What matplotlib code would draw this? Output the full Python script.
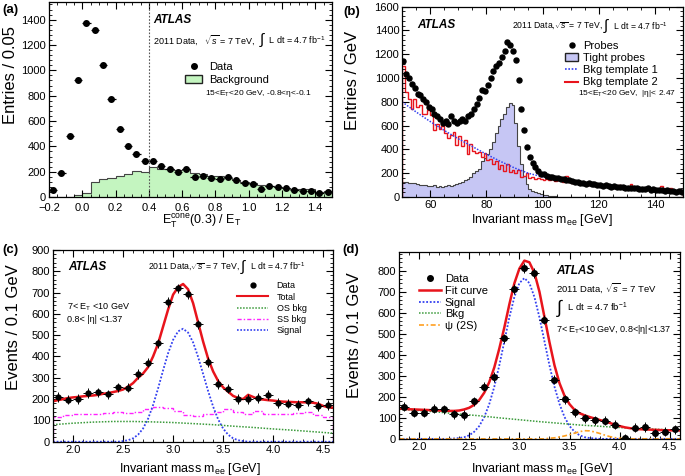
import numpy as np
import matplotlib.pyplot as plt
from matplotlib.lines import Line2D
from matplotlib.patches import Patch
from matplotlib.ticker import MultipleLocator

plt.rcParams['font.family'] = ['Liberation Sans', 'DejaVu Sans']
plt.rcParams['mathtext.fontset'] = 'custom'
plt.rcParams['mathtext.rm'] = 'Liberation Sans'
plt.rcParams['mathtext.it'] = 'Liberation Sans:italic'
plt.rcParams['mathtext.bf'] = 'Liberation Sans:bold'

# ---------- (a) isolation, bins of 0.05 from -0.2 to 1.5
iso_data = [52, 190, 479, 926, 1376, 1316, 1045, 771, 534, 403, 337, 287, 282, 242, 218, 195, 224,
            160, 166, 150, 142, 158, 132, 108, 105, 66, 89, 79, 71, 55, 47, 50, 34, 42]
iso_bkg = [0, 0, 0, 18, 34, 118, 140, 150, 166, 184, 203, 197, 237, 224, 218, 213, 224,
           187, 179, 168, 163, 153, 132, 121, 108, 97, 87, 79, 68, 63, 60, 60, 42, 45]

# ---------- (b) Z tag and probe, 1 GeV bins from 50 to 150
probes = [1140, 1030, 1000, 950, 920, 870, 860, 820, 800, 760,
          740, 700, 680, 660, 620, 640, 610, 680, 640, 620,
          640, 660, 640, 680, 700, 740, 780, 830, 900, 890,
          940, 1000, 1060, 1100, 1130, 1180, 1230, 1300, 1280, 1230,
          1150, 980, 740, 560, 420, 340, 290, 250, 215, 195,
          190, 180, 170, 172, 160, 158, 150, 155, 142, 145,
          132, 128, 130, 120, 118, 112, 118, 106, 108, 100,
          98, 95, 100, 90, 88, 95, 85, 82, 88, 78,
          76, 80, 72, 78, 68, 70, 66, 72, 62, 65,
          58, 56, 62, 52, 58, 50, 52, 46, 50, 42]
tight = [125, 130, 120, 115, 118, 110, 100, 105, 98, 95,
         90, 100, 88, 95, 85, 90, 100, 95, 105, 110,
         115, 125, 140, 150, 170, 200, 215, 240, 300, 330,
         360, 400, 460, 540, 600, 660, 700, 760, 790, 770,
         620, 430, 280, 180, 110, 70, 50, 40, 35, 25,
         20, 15, 12, 8, 5, 3, 2, 1, 0, 0] + [0] * 40
tmpl2 = [1100, 880, 820, 740, 820, 760, 770, 700, 700, 730,
         690, 560, 610, 570, 600, 540, 500, 520, 550, 440,
         510, 430, 480, 360, 450, 390, 370, 380, 340, 370,
         310, 320, 280, 300, 240, 270, 220, 280, 210, 230,
         200, 230, 170, 180, 200, 160, 165, 150, 160, 155,
         145, 150, 140, 150, 135, 140, 145, 130, 175, 130,
         120, 125, 115, 125, 110, 115, 105, 110, 100, 95,
         105, 95, 90, 85, 95, 80, 85, 105, 80, 75,
         85, 110, 75, 70, 80, 65, 70, 75, 60, 65,
         60, 55, 95, 55, 60, 80, 50, 55, 45, 50]
tmpl1_x = [50, 55, 60, 65, 70, 75, 80, 85, 90, 95, 100, 105, 110, 115, 120, 125, 130, 135, 140, 145, 150]
tmpl1 = [800, 715, 635, 560, 490, 425, 360, 300, 245, 200, 170, 150, 135, 120, 105, 95, 85, 75, 65, 58, 50]

# ---------- (c) J/psi, 0.1 GeV bins from 1.8 to 4.6
c_data = [209, 197, 201, 228, 231, 222, 255, 253, 318, 371, 461, 656, 720, 692,
          551, 374, 271, 249, 200, 200, 206, 220, 181, 179, 173, 189, 168, 173]
c_total = [190, 195, 200, 205, 208, 210, 213, 215, 217, 220,
           225, 228, 233, 238, 245, 258, 275, 300, 320, 350,
           400, 460, 540, 620, 690, 725, 740, 715, 650, 560,
           470, 390, 330, 285, 255, 235, 215, 205, 200, 220,
           210, 200, 198, 195, 193, 190, 188, 187, 186, 185,
           185, 185, 183, 178, 168, 162, 160]
c_signal = [0] * 14 + [3, 7, 16, 33, 62, 108, 172, 250, 335, 415, 478, 518, 530, 512, 466,
                       398, 318, 238, 165, 105, 62, 33, 16, 7, 3] + [0] * 18
c_os = [80, 87, 92, 95, 95, 93, 90, 85, 80, 73, 67, 60, 54, 47, 40]
c_ss = [115, 125, 128, 130, 132, 135, 138, 135, 140, 155, 165, 160, 145, 125,
        122, 128, 140, 155, 140, 132, 145, 128, 132, 130, 135, 138, 125, 118]

# ---------- (d) J/psi, 0.1 GeV bins from 1.8 to 4.6
d_data = [154, 125, 125, 143, 140, 116, 113, 178, 249, 294, 479, 713, 813, 789,
          567, 281, 189, 127, 98, 89, 87, 67, 3, 54, 56, 27, 35, 46]
d_fit = [145, 143, 141, 140, 139, 138, 137, 136, 135, 134,
         133, 133, 135, 140, 148, 162, 185, 220, 270, 340,
         430, 530, 640, 740, 810, 848, 840, 790, 700, 580,
         460, 350, 265, 205, 165, 138, 122, 112, 104, 97,
         90, 83, 76, 68, 61, 55, 51, 48, 46, 45,
         44, 43, 42, 41, 41, 40, 40]
d_signal = [0] * 11 + [2, 4, 8, 17, 34, 61, 104, 166, 248, 350, 464, 578, 675, 741, 765,
                       741, 675, 578, 464, 350, 248, 166, 104, 61, 34, 17, 8, 4, 2] + [0] * 17
d_bkg = [141, 135, 127, 118, 110, 100, 91, 82, 74, 66, 60, 54, 49, 45, 41]
d_psi = [0] * 30 + [3, 5, 9, 14, 20, 27, 34, 39, 38, 33, 26, 18, 11, 6, 3, 1] + [0] * 11

iso_edges = np.linspace(-0.2, 1.5, 35)
iso_x = (iso_edges[:-1] + iso_edges[1:]) / 2
z_edges = np.linspace(50, 150, 101)
z_x = (z_edges[:-1] + z_edges[1:]) / 2
j_edges = np.linspace(1.8, 4.6, 29)
j_x = (j_edges[:-1] + j_edges[1:]) / 2
curve_x = np.linspace(1.8, 4.6, 57)
coarse_x = np.linspace(1.8, 4.6, 15)

GREEN = '#3a9a3a'
BLUE = '#3340f0'
RED = '#e8141c'
MAG = '#ff22ff'
ORANGE = '#ffa020'
YLAB = 12


def style(ax, xmaj, xmin, ymaj, ymin):
    ax.xaxis.set_major_locator(MultipleLocator(xmaj))
    ax.xaxis.set_minor_locator(MultipleLocator(xmin))
    ax.yaxis.set_major_locator(MultipleLocator(ymaj))
    ax.yaxis.set_minor_locator(MultipleLocator(ymin))
    ax.tick_params(which='both', direction='in', top=True, right=True, labelsize=8, pad=2)
    ax.tick_params(which='major', length=5, width=0.8)
    ax.tick_params(which='minor', length=2.5, width=0.6)
    for s in ax.spines.values():
        s.set_linewidth(0.9)


def lumi(ax, x, y, pre, size, isize, post=r' L dt = 4.7 fb$^{-1}$'):
    # text, then a tall integral sign, then the rest, chained one after the other
    t = ax.text(x, y, pre, transform=ax.transAxes, fontsize=size, va='center')
    s = ax.annotate(r'$\int$', xy=(1, 0.5), xycoords=t, fontsize=isize, va='center', ha='left')
    ax.annotate(post, xy=(1, 0.5), xycoords=s, fontsize=size, va='center', ha='left')


fig = plt.figure(figsize=(6.85, 4.76), dpi=100)
axa = fig.add_axes([0.0715, 0.586, 0.413, 0.41])
axb = fig.add_axes([0.587, 0.586, 0.410, 0.400])
axc = fig.add_axes([0.0774, 0.072, 0.409, 0.403])
axd = fig.add_axes([0.5825, 0.078, 0.410, 0.393])

# ---- (a)
axa.stairs(iso_bkg, iso_edges, fill=True, color='#c4f5c0', lw=0)
axa.stairs(iso_bkg, iso_edges, color='#444444', lw=0.8)
axa.errorbar(iso_x, iso_data, xerr=0.025, yerr=15, fmt='o', ms=4, color='black', elinewidth=0.9, capsize=0)
axa.axvline(0.4, color='#555555', ls=(0, (1.5, 1.5)), lw=0.8)
axa.set_xlim(-0.2, 1.5)
axa.set_ylim(0, 1540)
style(axa, 0.2, 0.05, 200, 40)
axa.tick_params(axis='x', pad=4)
axa.set_xlabel(r'$\mathrm{E}_\mathrm{T}^\mathrm{cone}$(0.3) / $\mathrm{E}_\mathrm{T}$', fontsize=9)
axa.set_ylabel('Entries / 0.05', fontsize=YLAB)
axa.xaxis.set_label_coords(0.54, -0.08)
axa.yaxis.set_label_coords(-0.108, 0.626)
axa.text(0.368, 0.905, 'ATLAS', transform=axa.transAxes, fontsize=8.5, fontweight='bold', style='italic', va='center')
lumi(axa, 0.368, 0.805, r'2011 Data,   $\sqrt{s}$ = 7 TeV,  ', 6.5, 11)
axa.legend(handles=[Line2D([], [], marker='o', ls='', color='black', ms=4),
                    Patch(facecolor='#c4f5c0', edgecolor='#222222', lw=1)],
           labels=['Data', 'Background'], loc='upper left', bbox_to_anchor=(0.46, 0.72),
           frameon=False, fontsize=8, handlelength=1.6, handletextpad=0.6, labelspacing=0.25, borderpad=0)
axa.text(0.55, 0.533, r'15<E$_\mathrm{T}$<20 GeV, -0.8<η<-0.1', transform=axa.transAxes, fontsize=6, va='center')

# ---- (b)
axb.stairs(tight, z_edges, fill=True, color='#c6c6f4', lw=0)
axb.stairs(tight, z_edges, color='#444444', lw=0.8)
axb.stairs(tmpl2, z_edges, color=RED, lw=1.0)
axb.plot(tmpl1_x, tmpl1, color=BLUE, ls=(0, (1, 1)), lw=1.1)
axb.plot(z_x, probes, 'o', ms=3.6, color='black')
axb.set_xlim(50, 150)
axb.set_ylim(0, 1600)
style(axb, 20, 5, 200, 40)
axb.set_xlabel(r'Invariant mass m$_\mathrm{ee}$ [GeV]', fontsize=9)
axb.set_ylabel('Entries / GeV', fontsize=YLAB)
axb.xaxis.set_label_coords(0.497, -0.08)
axb.yaxis.set_label_coords(-0.15, 0.615)
axb.text(0.053, 0.904, 'ATLAS', transform=axb.transAxes, fontsize=8.5, fontweight='bold', style='italic', va='center')
lumi(axb, 0.39, 0.9, r'2011 Data,$\sqrt{s}$ = 7 TeV, ', 6.2, 11)
axb.legend(handles=[Line2D([], [], marker='o', ls='', color='black', ms=3.6),
                    Patch(facecolor='#c6c6f4', edgecolor='#222222', lw=1),
                    Line2D([], [], color=BLUE, ls=(0, (1, 1)), lw=1.2),
                    Line2D([], [], color=RED, lw=1.5)],
           labels=['Probes', 'Tight probes', 'Bkg template 1', 'Bkg template 2'],
           loc='upper left', bbox_to_anchor=(0.56, 0.85), frameon=False, fontsize=8,
           handlelength=1.2, handletextpad=0.45, labelspacing=0.2, borderpad=0)
axb.text(0.625, 0.546, r'15<E$_\mathrm{T}$<20 GeV,  |η|< 2.47', transform=axb.transAxes, fontsize=6, va='center')

# ---- (c)
axc.plot(curve_x, c_signal, color=BLUE, ls=(0, (1, 1)), lw=1.3)
axc.plot(coarse_x, c_os, color=GREEN, ls=(0, (1, 1)), lw=1.1)
axc.stairs(c_ss, j_edges, color=MAG, ls=(0, (3, 1.5, 1, 1.5)), lw=1.0)
axc.plot(curve_x, c_total, color=RED, lw=1.8)
axc.errorbar(j_x, c_data, xerr=0.05, yerr=22, fmt='o', ms=3.5, color='black', elinewidth=0.7, capsize=0)
axc.set_xlim(1.8, 4.6)
axc.set_ylim(0, 900)
style(axc, 0.5, 0.1, 100, 20)
axc.set_xlabel(r'Invariant mass m$_\mathrm{ee}$ [GeV]', fontsize=9)
axc.set_ylabel('Events / 0.1 GeV', fontsize=YLAB)
axc.xaxis.set_label_coords(0.49, -0.1)
axc.yaxis.set_label_coords(-0.114, 0.6)
axc.text(0.054, 0.913, 'ATLAS', transform=axc.transAxes, fontsize=8.5, fontweight='bold', style='italic', va='center')
lumi(axc, 0.34, 0.913, r'2011 Data,$\sqrt{s}$ = 7 TeV,', 6.3, 11)
axc.legend(handles=[Line2D([], [], marker='o', ls='', color='black', ms=3.5),
                    Line2D([], [], color=RED, lw=1.5),
                    Line2D([], [], color=GREEN, ls=(0, (1, 1)), lw=1.1),
                    Line2D([], [], color=MAG, ls=(0, (3, 1.5, 1, 1.5)), lw=1.0),
                    Line2D([], [], color=BLUE, ls=(0, (1, 1)), lw=1.2)],
           labels=['Data', 'Total', 'OS bkg', 'SS bkg', 'Signal'],
           loc='upper left', bbox_to_anchor=(0.64, 0.86), frameon=False, fontsize=6.5,
           handlelength=3.5, handletextpad=0.9, labelspacing=0.25, borderpad=0)
axc.text(0.05, 0.70, r'7< E$_\mathrm{T}$ <10 GeV', transform=axc.transAxes, fontsize=6.5, va='center')
axc.text(0.05, 0.635, '0.8< |η| <1.37', transform=axc.transAxes, fontsize=6.5, va='center')

# ---- (d)
axd.plot(curve_x, d_signal, color=BLUE, ls=(0, (1, 1)), lw=1.3)
axd.plot(coarse_x, d_bkg, color=GREEN, ls=(0, (1, 1)), lw=1.1)
axd.plot(curve_x, d_psi, color=ORANGE, ls=(0, (3, 1.5, 1, 1.5)), lw=1.2)
axd.plot(curve_x, d_fit, color=RED, lw=1.8)
axd.errorbar(j_x, d_data, xerr=0.05, yerr=22, fmt='o', ms=4, color='black', elinewidth=0.7, capsize=0)
axd.set_xlim(1.8, 4.6)
axd.set_ylim(0, 890)
style(axd, 0.5, 0.1, 100, 20)
axd.set_xlabel(r'Invariant mass m$_\mathrm{ee}$ [GeV]', fontsize=9)
axd.set_ylabel('Events / 0.1 GeV', fontsize=YLAB)
axd.xaxis.set_label_coords(0.508, -0.12)
axd.yaxis.set_label_coords(-0.132, 0.556)
axd.legend(handles=[Line2D([], [], marker='o', ls='', color='black', ms=4),
                    Line2D([], [], color=RED, lw=1.8),
                    Line2D([], [], color=BLUE, ls=(0, (1, 1)), lw=1.3),
                    Line2D([], [], color=GREEN, ls=(0, (1, 1)), lw=1.1),
                    Line2D([], [], color=ORANGE, ls=(0, (3, 1.5, 1, 1.5)), lw=1.2)],
           labels=['Data', 'Fit curve', 'Signal', 'Bkg', 'ψ (2S)'],
           loc='upper left', bbox_to_anchor=(0.05, 0.91), frameon=False, fontsize=8,
           handlelength=2.0, handletextpad=0.35, labelspacing=0.15, borderpad=0)
axd.text(0.559, 0.898, 'ATLAS', transform=axd.transAxes, fontsize=8.5, fontweight='bold', style='italic', va='center')
axd.text(0.559, 0.807, r'2011 Data, $\sqrt{s}$ = 7 TeV', transform=axd.transAxes, fontsize=6.8, va='center')
lumi(axd, 0.559, 0.702, '', 6.8, 13)
axd.text(0.559, 0.583, r'7< E$_\mathrm{T}$<10 GeV, 0.8<|η|<1.37', transform=axd.transAxes, fontsize=6.5, va='center')

for x, y, s in [(0.003, 0.979, '(a)'), (0.502, 0.975, '(b)'), (0.003, 0.475, '(c)'), (0.5, 0.475, '(d)')]:
    fig.text(x, y, s, fontsize=9.5, fontweight='bold', va='center')

fig.savefig('out.png', dpi=100)
